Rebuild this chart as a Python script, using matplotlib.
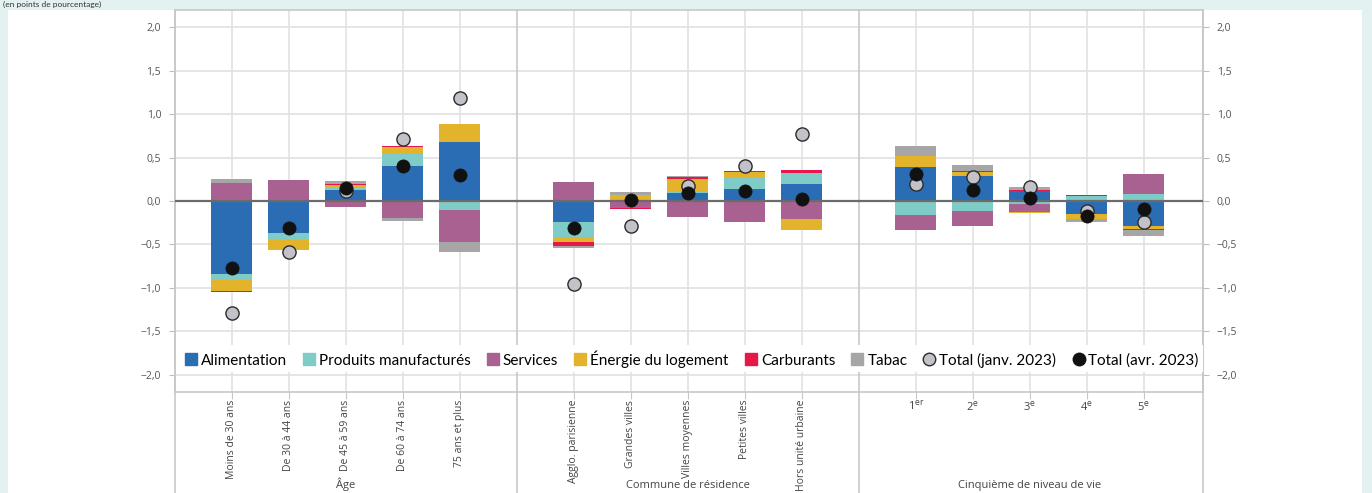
import matplotlib
matplotlib.use("Agg")
import matplotlib.pyplot as plt
from matplotlib.lines import Line2D
from matplotlib.patches import Rectangle
import numpy as np

# contributions (points de pourcentage)
categories = [
    "Moins de 30 ans", "De 30 à 44 ans", "De 45 à 59 ans", "De 60 à 74 ans", "75 ans et plus",
    "Agglo. parisienne", "Grandes villes", "Villes moyennes", "Petites villes", "Hors unité urbaine",
    r"1$^{\mathrm{er}}$", r"2$^{\mathrm{e}}$", r"3$^{\mathrm{e}}$", r"4$^{\mathrm{e}}$", r"5$^{\mathrm{e}}$",
]
groups = ["Âge", "Commune de résidence", "Cinquième de niveau de vie"]

alimentation = [-0.836, -0.374, 0.123, 0.400, 0.678, -0.247, 0.015, 0.092, 0.135, 0.193, 0.389, 0.285, 0.112, -0.146, -0.293]
produits = [-0.073, -0.077, 0.030, 0.143, -0.104, -0.173, 0.0, 0.020, 0.131, 0.127, -0.166, -0.120, -0.031, 0.054, 0.077]
services = [0.204, 0.239, -0.070, -0.200, -0.366, 0.216, -0.077, -0.189, -0.247, -0.212, -0.170, -0.173, -0.096, 0.0, 0.231]
energie = [-0.123, -0.116, 0.030, 0.077, 0.208, -0.058, 0.050, 0.146, 0.066, -0.127, 0.127, 0.050, -0.012, -0.065, -0.031]
carburants = [-0.012, 0.0, 0.015, 0.012, -0.008, -0.035, -0.015, 0.015, 0.012, 0.035, 0.0, 0.015, 0.012, 0.012, -0.012]
tabac = [0.046, 0.0, 0.027, -0.031, -0.112, -0.031, 0.035, 0.010, 0.0, 0.0, 0.116, 0.062, 0.035, -0.031, -0.069]
total_janv = [-1.295, -0.582, 0.112, 0.709, 1.190, -0.956, -0.289, 0.170, 0.400, 0.767, 0.193, 0.274, 0.162, -0.116, -0.239]
total_avr = [-0.775, -0.316, 0.154, 0.405, 0.297, -0.308, 0.015, 0.096, 0.112, 0.027, 0.308, 0.131, 0.031, -0.177, -0.092]

series = [
    ("Alimentation", alimentation, "#2a6db5"),
    ("Produits manufacturés", produits, "#7fcbc8"),
    ("Services", services, "#a86190"),
    ("Énergie du logement", energie, "#e2b32b"),
    ("Carburants", carburants, "#e8174a"),
    ("Tabac", tabac, "#a6a6a6"),
]

# x positions: 5 bars per group, one empty slot between groups
x = np.array([1, 2, 3, 4, 5, 7, 8, 9, 10, 11, 13, 14, 15, 16, 17])
separators = [6, 12]

W, H = 1372, 493
fig = plt.figure(figsize=(W / 100, H / 100), dpi=100)
fig.patch.set_facecolor("#e4f1f1")
fig.patches.append(Rectangle((8 / W, 0), (1362 - 8) / W, (H - 10) / H,
                             transform=fig.transFigure, facecolor="white",
                             edgecolor="none", zorder=-10))
fig.text(3 / W, 1 - 1 / H, "(en points de pourcentage)", fontsize=6,
         family="Lato", color="#333333", va="top", ha="left")

ax = fig.add_axes([175 / W, 1 - 392 / H, (1203 - 175) / W, (392 - 10) / H])
ax.set_zorder(2)
ax.set_facecolor("white")

pos_base = np.zeros(len(x))
neg_base = np.zeros(len(x))
for name, vals, color in series:
    v = np.array(vals)
    bottom = np.where(v >= 0, pos_base, neg_base)
    ax.bar(x, v, width=0.72, bottom=bottom, color=color, zorder=3, linewidth=0)
    pos_base += np.where(v >= 0, v, 0)
    neg_base += np.where(v < 0, v, 0)

ax.axhline(0, color="#6b6b6b", lw=1.6, zorder=4)
ax.plot(x, total_janv, "o", ms=9.5, mfc="#c3c2c9", mec="#2b2b2b", mew=1.0, zorder=5, ls="none")
ax.plot(x, total_avr, "o", ms=9.5, mfc="#111111", mec="#111111", mew=0.5, zorder=6, ls="none")

ax.set_xlim(0, 18.04)
ax.set_ylim(-2.2, 2.2)
yt = np.arange(-2.0, 2.01, 0.5)
ax.set_yticks(yt)
ylabels = [f"{v:.1f}".replace(".", ",").replace("-", "\u2212") for v in yt]
ylabels = ["0,0" if l == "\u22120,0" else l for l in ylabels]
ax.set_yticklabels(ylabels, family="Open Sans", fontsize=7.5, color="#555555")
ax.tick_params(axis="y", which="both", left=True, right=True, labelleft=True,
               labelright=True, length=4, color="#bdbdbd", pad=6)
ax.grid(axis="y", color="#e0e0e0", lw=1.2, zorder=0)

ax.set_xticks(x)
ax.set_xticklabels([])
ax.tick_params(axis="x", length=5, color="#c8c8c8")
for xi in x:
    ax.axvline(xi, color="#e2e2e2", lw=1.2, zorder=1)

for sp in ax.spines.values():
    sp.set_color("#c8c8c8")
    sp.set_linewidth(1.2)

# vertical lines through the label area
trans = ax.get_xaxis_transform()
for xs in [0, 18.04] + separators:
    ax.plot([xs, xs], [1, -0.3], transform=trans, color="#c8c8c8", lw=1.2,
            clip_on=False, zorder=2)

# category labels
for i, (xi, lab) in enumerate(zip(x, categories)):
    if i < 10:
        ax.text(xi, -0.02, lab, transform=trans, rotation=90, ha="center", va="top",
                fontsize=7.5, family="Open Sans", color="#444444")
    else:
        ax.text(xi, -0.018, lab, transform=trans, ha="center", va="top",
                fontsize=8, family="Open Sans", color="#444444")

group_centers = [3, 9, 15]
for gc, g in zip(group_centers, groups):
    fig.text(ax.transData.transform((gc, 0))[0] / W, 2 / H, g, ha="center", va="bottom",
             fontsize=8, family="Open Sans", color="#444444")

handles = [Line2D([], [], marker="s", ls="none", ms=8, mfc=c, mec=c, label=n)
           for n, _, c in series]
handles.append(Line2D([], [], marker="o", ls="none", ms=9, mfc="#c3c2c9", mec="#2b2b2b",
                      label="Total (janv. 2023)"))
handles.append(Line2D([], [], marker="o", ls="none", ms=9, mfc="#111111", mec="#111111",
                      label="Total (avr. 2023)"))
leg = ax.legend(handles=handles, loc="center", bbox_to_anchor=(0.502, 0.087), ncol=8,
                frameon=True, fancybox=False, edgecolor="none", facecolor="white",
                framealpha=1, handletextpad=0.15, columnspacing=0.95, handlelength=1.0,
                borderpad=0.3, prop={"family": "Lato", "size": 11})
leg.set_zorder(7)

fig.savefig("out.png", dpi=100, facecolor=fig.get_facecolor())
